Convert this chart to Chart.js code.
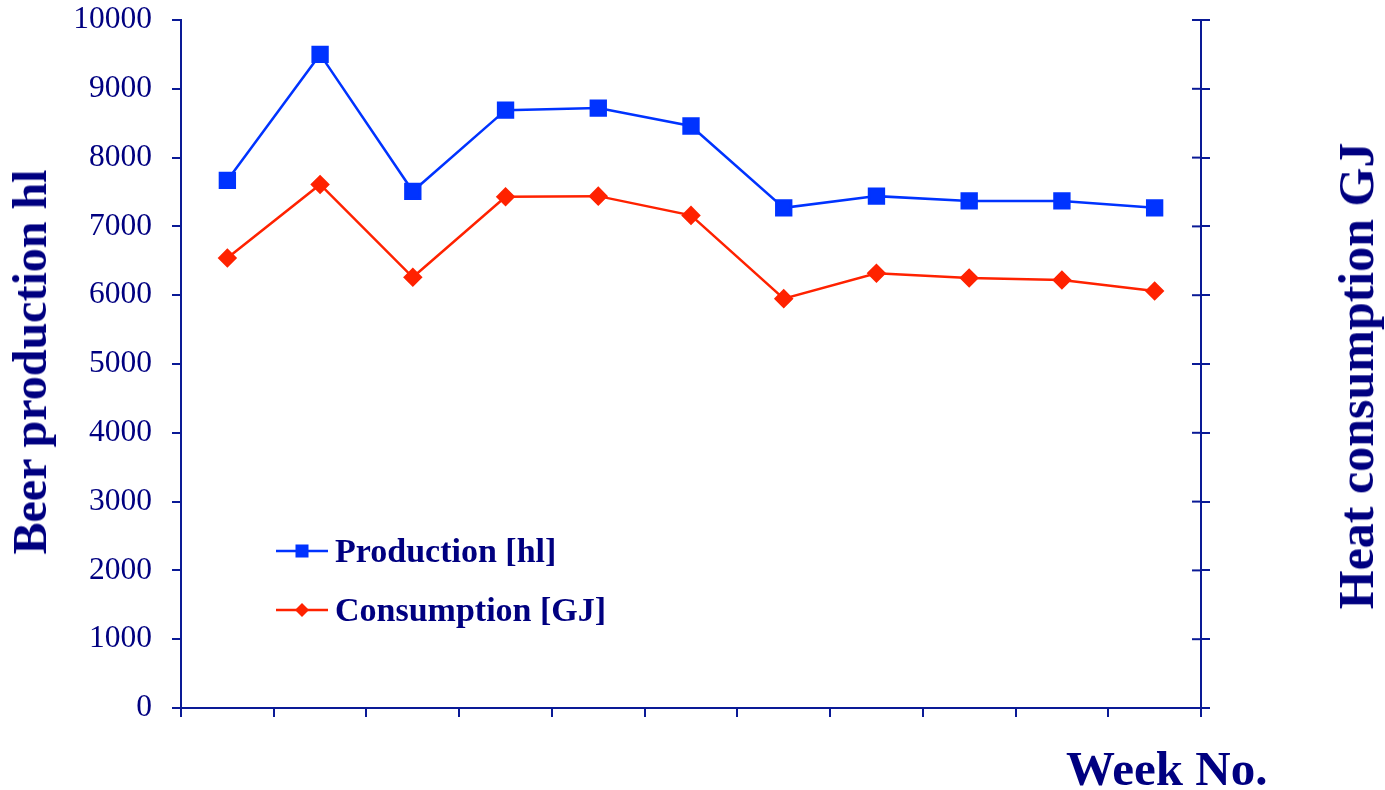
<!DOCTYPE html>
<html>
<head>
<meta charset="utf-8">
<script src="https://cdn.jsdelivr.net/npm/chart.js@4.4.1/dist/chart.umd.min.js"></script>
<style>
    html, body { margin: 0; padding: 0; background: #fff; }
    #wrap { position: relative; width: 1385px; height: 790px; }
    #chart { position: absolute; left: 0; top: 0; }
    .txt {
        position: absolute;
        font-family: "Liberation Serif", "Times New Roman", serif;
        font-weight: bold;
        color: #000080;
        white-space: nowrap;
        line-height: 1;
    }
    .rot { transform: translate(-50%, -50%) rotate(-90deg); }
    .leg-row { position: absolute; left: 276px; height: 34px; display: flex; align-items: center; }
    .leg-row svg { margin-right: 7px; }
</style>
</head>
<body>
<div id="wrap">
    <canvas id="chart" width="1385" height="790"></canvas>
    <div class="txt rot" style="left:30px; top:362px; font-size:48px;">Beer production hl</div>
    <div class="txt rot" style="left:1356px; top:376px; font-size:50px;">Heat consumption GJ</div>
    <div class="txt" style="left:1066px; top:744px; font-size:49px;">Week No.</div>
    <div class="leg-row" style="top:534px;">
        <svg width="52" height="20"><line x1="0" y1="10" x2="52" y2="10" stroke="#0033ff" stroke-width="2.5"/><rect x="19.5" y="3.5" width="13" height="13" fill="#0033ff"/></svg>
        <span class="txt" style="position:static; font-size:34px;">Production [hl]</span>
    </div>
    <div class="leg-row" style="top:593px;">
        <svg width="52" height="20"><line x1="0" y1="10" x2="52" y2="10" stroke="#ff2200" stroke-width="2.5"/><polygon points="26,3 33,10 26,17 19,10" fill="#ff2200"/></svg>
        <span class="txt" style="position:static; font-size:34px;">Consumption [GJ]</span>
    </div>
</div>
<script>
// недели (подписи по оси X не выводятся)
const weeks = ['1', '2', '3', '4', '5', '6', '7', '8', '9', '10', '11'];
// производство пива, hl
const production = [7670, 9500, 7510, 8690, 8720, 8460, 7270, 7440, 7370, 7370, 7270];
// потребление тепла, GJ
const consumption = [6540, 7610, 6260, 7430, 7440, 7160, 5950, 6320, 6250, 6220, 6060];

const AXIS = '#0a1a96';
const TEXT = '#000080';

// короткие засечки внутрь графика на правой оси
const innerTicks = {
    id: 'innerTicks',
    afterDraw(chart) {
        const s = chart.scales.y2;
        const ctx = chart.ctx;
        ctx.save();
        ctx.strokeStyle = AXIS;
        ctx.lineWidth = 2;
        s.ticks.forEach(t => {
            const y = s.getPixelForValue(t.value);
            ctx.beginPath();
            ctx.moveTo(s.left - 9, y);
            ctx.lineTo(s.left, y);
            ctx.stroke();
        });
        ctx.restore();
    }
};

new Chart(document.getElementById('chart'), {
    type: 'line',
    data: {
        labels: weeks,
        datasets: [
            {
                label: 'Production [hl]',
                data: production,
                borderColor: '#0033ff',
                backgroundColor: '#0033ff',
                borderWidth: 2.5,
                pointStyle: 'rect',
                pointRadius: 10.5,
                tension: 0,
                yAxisID: 'y'
            },
            {
                label: 'Consumption [GJ]',
                data: consumption,
                borderColor: '#ff2200',
                backgroundColor: '#ff2200',
                borderWidth: 2.5,
                pointStyle: 'rectRot',
                pointRadius: 8,
                tension: 0,
                yAxisID: 'y'
            }
        ]
    },
    options: {
        responsive: false,
        animation: false,
        events: [],
        layout: { padding: { top: 20, left: 0, right: 0, bottom: 0 } },
        plugins: {
            legend: { display: false },
            tooltip: { enabled: false }
        },
        scales: {
            x: {
                type: 'category',
                offset: true,
                grid: { offset: true, drawOnChartArea: false, tickLength: 9, color: AXIS, lineWidth: 2 },
                border: { color: AXIS, width: 2 },
                ticks: { display: false },
                afterFit(scale) { scale.height = 82; }
            },
            y: {
                position: 'left',
                min: 0,
                max: 10000,
                grid: { drawOnChartArea: false, tickLength: 9, color: AXIS, lineWidth: 2 },
                border: { color: AXIS, width: 2 },
                ticks: {
                    stepSize: 1000,
                    padding: 20,
                    color: TEXT,
                    font: { family: '"Liberation Serif", "Times New Roman", serif', size: 31.5 },
                    callback: v => String(v)
                },
                afterFit(scale) {
                    scale.width = 181;
                    // подписи крайних делений не должны сдвигать область графика
                    scale.paddingTop = 0;
                    scale.paddingBottom = 0;
                }
            },
            y2: {
                position: 'right',
                min: 0,
                max: 10000,
                grid: { drawOnChartArea: false, tickLength: 9, color: AXIS, lineWidth: 2 },
                border: { color: AXIS, width: 2 },
                ticks: { stepSize: 1000, display: false },
                afterFit(scale) {
                    scale.width = 184;
                    scale.paddingTop = 0;
                    scale.paddingBottom = 0;
                }
            }
        }
    },
    plugins: [innerTicks]
});
</script>
</body>
</html>
